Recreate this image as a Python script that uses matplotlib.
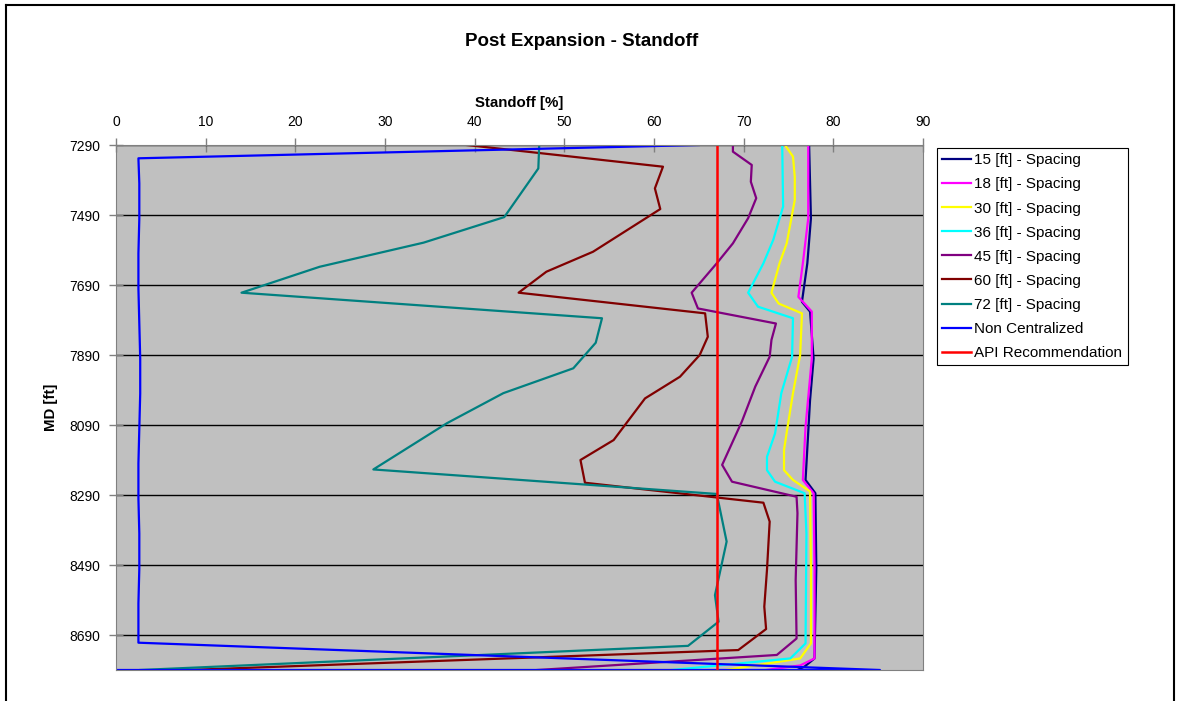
import matplotlib.pyplot as plt
from matplotlib.lines import Line2D

plt.rcParams['font.family'] = ['Liberation Sans', 'DejaVu Sans']

x_ticks = [0, 10, 20, 30, 40, 50, 60, 70, 80, 90]
y_ticks = [7290, 7490, 7690, 7890, 8090, 8290, 8490, 8690]
api_standoff = 67.0

md_15 = [7290, 7500, 7628, 7738, 7766, 7900, 8020, 8247, 8285, 8500, 8757, 8780, 8790]
so_15 = [77.3, 77.5, 77.1, 76.5, 77.4, 77.8, 77.4, 76.9, 78.0, 78.1, 77.9, 76.8, 76.0]

md_18 = [7290, 7500, 7628, 7724, 7766, 7900, 8095, 8247, 8285, 8500, 8757, 8777, 8790]
so_18 = [77.2, 77.2, 76.6, 76.1, 77.6, 77.6, 76.9, 76.6, 77.8, 77.9, 77.9, 76.3, 72.5]

md_30 = [7290, 7323, 7381, 7447, 7571, 7628, 7712, 7743, 7771, 7890, 7999, 8095,
         8161, 8219, 8247, 8280, 8500, 8714, 8757, 8790]
so_30 = [74.6, 75.5, 75.7, 75.7, 74.8, 74.0, 73.1, 73.9, 76.5, 76.3, 75.5, 74.9,
         74.5, 74.5, 75.5, 77.4, 77.5, 77.5, 76.3, 68.0]

md_36 = [7290, 7466, 7561, 7628, 7712, 7752, 7785, 7895, 7999, 8114, 8181, 8219,
         8252, 8285, 8400, 8714, 8757, 8790]
so_36 = [74.3, 74.4, 73.3, 72.2, 70.5, 71.6, 75.5, 75.4, 74.2, 73.5, 72.6, 72.6,
         73.5, 76.8, 77.0, 76.9, 75.2, 62.0]

md_45 = [7290, 7309, 7347, 7395, 7442, 7499, 7571, 7628, 7712, 7757, 7800, 7847,
         7895, 7980, 8080, 8204, 8252, 8295, 8342, 8533, 8700, 8747, 8790]
so_45 = [68.8, 68.8, 70.9, 70.8, 71.4, 70.5, 68.8, 67.0, 64.2, 64.9, 73.6, 73.1,
         72.9, 71.3, 69.8, 67.6, 68.7, 75.9, 76.0, 75.8, 75.9, 73.7, 47.0]

md_60 = [7290, 7352, 7414, 7473, 7595, 7652, 7712, 7771, 7838, 7890, 7952, 8014,
         8133, 8190, 8255, 8312, 8366, 8504, 8609, 8673, 8733, 8790]
so_60 = [39.1, 61.0, 60.1, 60.7, 53.2, 48.0, 44.9, 65.7, 66.0, 65.1, 62.9, 59.0,
         55.5, 51.8, 52.3, 72.2, 72.9, 72.6, 72.3, 72.5, 69.4, 8.0]

md_72 = [7290, 7357, 7496, 7569, 7638, 7712, 7785, 7855, 7928, 7999, 8085, 8217,
         8287, 8423, 8576, 8652, 8721, 8790]
so_72 = [47.2, 47.1, 43.3, 34.3, 22.7, 14.0, 54.2, 53.5, 51.0, 43.2, 36.9, 28.7,
         67.0, 68.1, 66.8, 67.2, 63.8, 2.7]

md_nc = [7290, 7328, 7400, 7500, 7600, 7700, 7800, 7900, 8000, 8100, 8200, 8300,
         8400, 8500, 8600, 8712, 8790, 8790]
so_nc = [65.0, 2.5, 2.6, 2.6, 2.5, 2.5, 2.6, 2.7, 2.7, 2.6, 2.5, 2.5,
         2.6, 2.6, 2.5, 2.5, 85.2, 0.0]

series = [
    ("15 [ft] - Spacing", md_15, so_15, "#000080"),
    ("18 [ft] - Spacing", md_18, so_18, "#FF00FF"),
    ("30 [ft] - Spacing", md_30, so_30, "#FFFF00"),
    ("36 [ft] - Spacing", md_36, so_36, "#00FFFF"),
    ("45 [ft] - Spacing", md_45, so_45, "#800080"),
    ("60 [ft] - Spacing", md_60, so_60, "#800000"),
    ("72 [ft] - Spacing", md_72, so_72, "#008080"),
    ("Non Centralized", md_nc, so_nc, "#0000FF"),
]

fig = plt.figure(figsize=(11.78, 7.01), dpi=100)
ax = fig.add_axes([116 / 1178, 1 - 670 / 701, 807 / 1178, 525 / 701])
ax.set_facecolor("#C0C0C0")

for lbl, md, so, col in series:
    ax.plot(so, md, color=col, lw=1.6, label=lbl)
ax.axvline(api_standoff, color="#FF0000", lw=1.8, label="API Recommendation")

ax.set_xlim(0, 90)
ax.set_ylim(8790, 7290)
ax.set_xticks(x_ticks)
ax.set_yticks(y_ticks)
ax.xaxis.tick_top()
ax.xaxis.set_label_position("top")
ax.tick_params(axis="both", direction="inout", length=10, width=1, color="#808080",
               labelsize=10, pad=6.5)
ax.yaxis.grid(True, color="black", lw=1)
ax.set_axisbelow(True)
for sp in ax.spines.values():
    sp.set_color("#808080")

ax.set_xlabel("Standoff [%]", fontsize=10.8, fontweight="bold", labelpad=6)
ax.set_ylabel("MD [ft]", fontsize=10.8, fontweight="bold", labelpad=8)
fig.text(0.494, 1 - 41.5 / 701, "Post Expansion - Standoff", ha="center", va="center",
         fontsize=13.5, fontweight="bold")

leg = ax.legend(loc="upper left", bbox_to_anchor=(937 / 1178, 1 - 148 / 701),
                bbox_transform=fig.transFigure, borderaxespad=0, fancybox=False,
                edgecolor="black", framealpha=1, fontsize=11, handlelength=1.9,
                handletextpad=0.2, labelspacing=0.66, borderpad=0.35)
leg.get_frame().set_linewidth(0.8)

# outer chart frame
for xs, ys in [([6 / 1178, 1174 / 1178], [1 - 5 / 701] * 2),
               ([6 / 1178] * 2, [0, 1 - 5 / 701]),
               ([1174 / 1178] * 2, [0, 1 - 5 / 701])]:
    fig.add_artist(Line2D(xs, ys, color="black", lw=1.5))

fig.savefig("out.png", dpi=100)
